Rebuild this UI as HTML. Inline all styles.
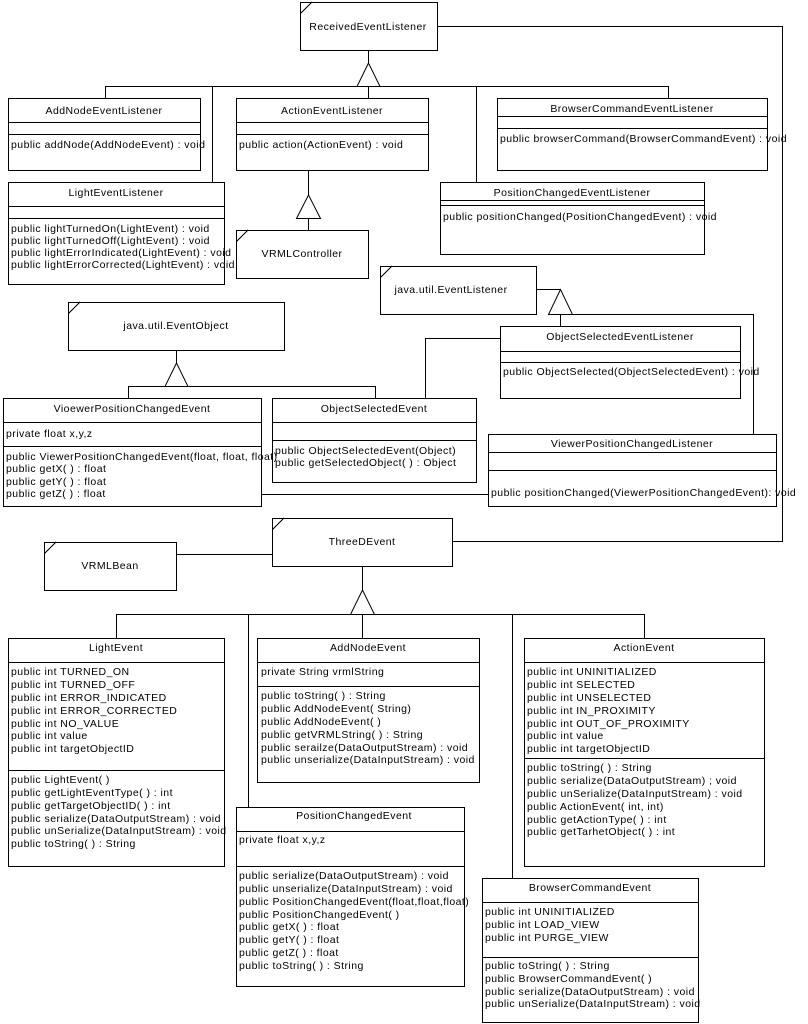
<!DOCTYPE html>
<html><head><meta charset="utf-8"><style>
html,body{margin:0;padding:0;background:#fff;width:808px;height:1024px;overflow:hidden}
svg{display:block}
text{font-family:"Liberation Sans",Arial,sans-serif;font-size:10.5px;fill:#000;letter-spacing:0.45px}
.c{text-anchor:middle}
</style></head><body>
<svg width="808" height="1024" viewBox="0 0 808 1024" xmlns="http://www.w3.org/2000/svg">
<g fill="none" stroke="#000" stroke-width="1" shape-rendering="crispEdges">
<rect x="300.5" y="2.5" width="137" height="48"/>
<line x1="300" y1="14" x2="312" y2="2"/>
<polyline points="437.5,26.5 782.5,26.5 782.5,541.5 452.5,541.5"/>
<line x1="368.5" y1="50" x2="368.5" y2="63"/>
<polygon points="368.5,63 357,86.5 380,86.5" fill="#fff" shape-rendering="auto"/>
<line x1="105.5" y1="86.5" x2="668.5" y2="86.5"/>
<line x1="105.5" y1="86" x2="105.5" y2="98"/>
<line x1="212.5" y1="86" x2="212.5" y2="182"/>
<line x1="368.5" y1="86" x2="368.5" y2="98"/>
<line x1="476.5" y1="86" x2="476.5" y2="182"/>
<line x1="668.5" y1="86" x2="668.5" y2="98"/>
<rect x="8.5" y="98.5" width="192" height="72"/>
<line x1="8" y1="122.5" x2="200" y2="122.5"/><line x1="8" y1="134.5" x2="200" y2="134.5"/>
<rect x="236.5" y="98.5" width="192" height="72"/>
<line x1="236" y1="122.5" x2="428" y2="122.5"/><line x1="236" y1="134.5" x2="428" y2="134.5"/>
<rect x="497.5" y="98.5" width="270" height="72"/>
<line x1="497" y1="116.5" x2="767" y2="116.5"/><line x1="497" y1="128.5" x2="767" y2="128.5"/>
<rect x="8.5" y="182.5" width="216" height="102"/>
<line x1="8" y1="206.5" x2="224" y2="206.5"/><line x1="8" y1="218.5" x2="224" y2="218.5"/>
<line x1="308.5" y1="170" x2="308.5" y2="195"/>
<polygon points="308.5,195 296.5,218.5 320.5,218.5" fill="#fff" shape-rendering="auto"/>
<line x1="308.5" y1="218" x2="308.5" y2="230"/>
<rect x="236.5" y="230.5" width="132" height="48"/>
<line x1="236" y1="242" x2="248" y2="230"/>
<rect x="440.5" y="182.5" width="264" height="72"/>
<line x1="440" y1="200.5" x2="704" y2="200.5"/><line x1="440" y1="205.5" x2="704" y2="205.5"/>
<rect x="380.5" y="266.5" width="156" height="48"/>
<line x1="380" y1="278" x2="392" y2="266"/>
<line x1="536" y1="289.5" x2="560" y2="289.5"/>
<polygon points="560.5,289.5 548.5,314.5 572.5,314.5" fill="#fff" shape-rendering="auto"/>
<line x1="560.5" y1="314" x2="560.5" y2="326"/>
<polyline points="572,314.5 753.5,314.5 753.5,434"/>
<rect x="500.5" y="326.5" width="240" height="72"/>
<line x1="500" y1="351.5" x2="740" y2="351.5"/><line x1="500" y1="362.5" x2="740" y2="362.5"/>
<polyline points="500,338.5 425.5,338.5 425.5,398"/>
<rect x="272.5" y="398.5" width="204" height="84"/>
<line x1="272" y1="422.5" x2="476" y2="422.5"/><line x1="272" y1="440.5" x2="476" y2="440.5"/>
<rect x="488.5" y="434.5" width="288" height="72"/>
<line x1="488" y1="452.5" x2="776" y2="452.5"/><line x1="488" y1="470.5" x2="776" y2="470.5"/>
<line x1="261" y1="494.5" x2="488" y2="494.5"/>
<rect x="68.5" y="302.5" width="216" height="48"/>
<line x1="68" y1="314" x2="80" y2="302"/>
<line x1="176.5" y1="350" x2="176.5" y2="363"/>
<polygon points="176.5,363 165,386.5 188,386.5" fill="#fff" shape-rendering="auto"/>
<line x1="128.5" y1="386.5" x2="375.5" y2="386.5"/>
<line x1="128.5" y1="386" x2="128.5" y2="398"/>
<line x1="375.5" y1="386" x2="375.5" y2="398"/>
<rect x="3.5" y="398.5" width="258" height="108"/>
<line x1="3" y1="422.5" x2="261" y2="422.5"/><line x1="3" y1="446.5" x2="261" y2="446.5"/>
<rect x="44.5" y="542.5" width="132" height="48"/>
<line x1="44" y1="554" x2="56" y2="542"/>
<line x1="176" y1="554.5" x2="272" y2="554.5"/>
<rect x="272.5" y="518.5" width="180" height="48"/>
<line x1="272" y1="530" x2="284" y2="518"/>
<line x1="362.5" y1="566" x2="362.5" y2="590"/>
<polygon points="362.5,590 350.5,614.5 374.5,614.5" fill="#fff" shape-rendering="auto"/>
<line x1="116.5" y1="614.5" x2="644.5" y2="614.5"/>
<line x1="116.5" y1="614" x2="116.5" y2="638"/>
<line x1="248.5" y1="614" x2="248.5" y2="807"/>
<line x1="362.5" y1="614" x2="362.5" y2="638"/>
<line x1="512.5" y1="614" x2="512.5" y2="878"/>
<line x1="644.5" y1="614" x2="644.5" y2="638"/>
<rect x="8.5" y="638.5" width="216" height="228"/>
<line x1="8" y1="662.5" x2="224" y2="662.5"/><line x1="8" y1="770.5" x2="224" y2="770.5"/>
<rect x="257.5" y="638.5" width="222" height="144"/>
<line x1="257" y1="662.5" x2="479" y2="662.5"/><line x1="257" y1="686.5" x2="479" y2="686.5"/>
<rect x="236.5" y="807.5" width="228" height="179"/>
<line x1="236" y1="831.5" x2="464" y2="831.5"/><line x1="236" y1="866.5" x2="464" y2="866.5"/>
<rect x="524.5" y="638.5" width="240" height="228"/>
<line x1="524" y1="662.5" x2="764" y2="662.5"/><line x1="524" y1="758.5" x2="764" y2="758.5"/>
<rect x="482.5" y="878.5" width="216" height="144"/>
<line x1="482" y1="902.5" x2="698" y2="902.5"/><line x1="482" y1="957.5" x2="698" y2="957.5"/>
</g>

<g>
<text class="c" x="368" y="30">ReceivedEventListener</text>
<text class="c" x="104" y="114">AddNodeEventListener</text>
<text x="11" y="148">public addNode(AddNodeEvent) : void</text>
<text class="c" x="332" y="114">ActionEventListener</text>
<text x="239" y="148">public action(ActionEvent) : void</text>
<text class="c" x="632" y="112">BrowserCommandEventListener</text>
<text x="500" y="142">public browserCommand(BrowserCommandEvent) :  void</text>
<text class="c" x="116" y="196">LightEventListener</text>
<text x="11" y="232">public lightTurnedOn(LightEvent) : void</text>
<text x="11" y="244">public lightTurnedOff(LightEvent) : void</text>
<text x="11" y="256">public lightErrorIndicated(LightEvent) : void</text>
<text x="11" y="268">public lightErrorCorrected(LightEvent) : void</text>
<text class="c" x="302" y="257">VRMLController</text>
<text class="c" x="572" y="196">PositionChangedEventListener</text>
<text x="443" y="220">public positionChanged(PositionChangedEvent) : void</text>
<text class="c" x="451" y="293">java.util.EventListener</text>
<text class="c" x="620" y="340">ObjectSelectedEventListener</text>
<text x="503" y="375">public ObjectSelected(ObjectSelectedEvent) :  void</text>
<text class="c" x="176" y="329">java.util.EventObject</text>
<text class="c" x="132" y="412">VioewerPositionChangedEvent</text>
<text x="6" y="437">private float x,y,z</text>
<text x="6" y="460">public ViewerPositionChangedEvent(float, float, float)</text>
<text x="6" y="472">public getX( ) : float</text>
<text x="6" y="485">public getY( ) : float</text>
<text x="6" y="497">public getZ( ) : float</text>
<text class="c" x="374" y="412">ObjectSelectedEvent</text>
<text x="275" y="454">public ObjectSelectedEvent(Object)</text>
<text x="275" y="466">public getSelectedObject( ) : Object</text>
<text class="c" x="632" y="447">ViewerPositionChangedListener</text>
<text x="491" y="496">public positionChanged(ViewerPositionChangedEvent):  void</text>
<text class="c" x="110" y="569">VRMLBean</text>
<text class="c" x="362" y="545">ThreeDEvent</text>

<text class="c" x="116" y="651">LightEvent</text>
<text x="11" y="675">public int TURNED_ON</text>
<text x="11" y="688">public int TURNED_OFF</text>
<text x="11" y="701">public int ERROR_INDICATED</text>
<text x="11" y="714">public int ERROR_CORRECTED</text>
<text x="11" y="727">public int NO_VALUE</text>
<text x="11" y="739">public int value</text>
<text x="11" y="752">public int targetObjectID</text>
<text x="11" y="783">public LightEvent( )</text>
<text x="11" y="796">public getLightEventType( ) : int</text>
<text x="11" y="809">public getTargetObjectID( ) : int</text>
<text x="11" y="822">public serialize(DataOutputStream) : void</text>
<text x="11" y="834">public unSerialize(DataInputStream) : void</text>
<text x="11" y="847">public toString( ) : String</text>

<text class="c" x="368" y="651">AddNodeEvent</text>
<text x="261" y="675">private String vrmlString</text>
<text x="261" y="699">public toString( ) : String</text>
<text x="261" y="712">public AddNodeEvent( String)</text>
<text x="261" y="725">public AddNodeEvent( )</text>
<text x="261" y="738">public getVRMLString( ) : String</text>
<text x="261" y="751">public serailze(DataOutputStream) : void</text>
<text x="261" y="763">public unserialize(DataInputStream) : void</text>

<text class="c" x="354" y="819">PositionChangedEvent</text>
<text x="239" y="843">private float x,y,z</text>
<text x="239" y="879">public serialize(DataOutputStream) : void</text>
<text x="239" y="892">public unserialize(DataInputStream) : void</text>
<text x="239" y="905">public PositionChangedEvent(float,float,float)</text>
<text x="239" y="918">public PositionChangedEvent( )</text>
<text x="239" y="930">public getX( ) : float</text>
<text x="239" y="943">public getY( ) : float</text>
<text x="239" y="956">public getZ( ) : float</text>
<text x="239" y="969">public toString( ) : String</text>

<text class="c" x="644" y="651">ActionEvent</text>
<text x="527" y="675">public int UNINITIALIZED</text>
<text x="527" y="688">public int SELECTED</text>
<text x="527" y="701">public int UNSELECTED</text>
<text x="527" y="714">public int IN_PROXIMITY</text>
<text x="527" y="727">public int OUT_OF_PROXIMITY</text>
<text x="527" y="739">public int value</text>
<text x="527" y="752">public int targetObjectID</text>
<text x="527" y="771">public toString( ) : String</text>
<text x="527" y="784">public serialize(DataOutputStream) ; void</text>
<text x="527" y="797">public unSerialize(DataInputStream) : void</text>
<text x="527" y="810">public ActionEvent( int, int)</text>
<text x="527" y="823">public getActionType( ) : int</text>
<text x="527" y="835">public getTarhetObject( ) : int</text>

<text class="c" x="590" y="891">BrowserCommandEvent</text>
<text x="485" y="915">public int UNINITIALIZED</text>
<text x="485" y="928">public int LOAD_VIEW</text>
<text x="485" y="941">public int PURGE_VIEW</text>
<text x="485" y="969">public toString( ) : String</text>
<text x="485" y="982">public BrowserCommandEvent( )</text>
<text x="485" y="995">public serialize(DataOutputStream) :  void</text>
<text x="485" y="1007">public unSerialize(DataInputStream) :  void</text>
</g>
</svg>
</body></html>
